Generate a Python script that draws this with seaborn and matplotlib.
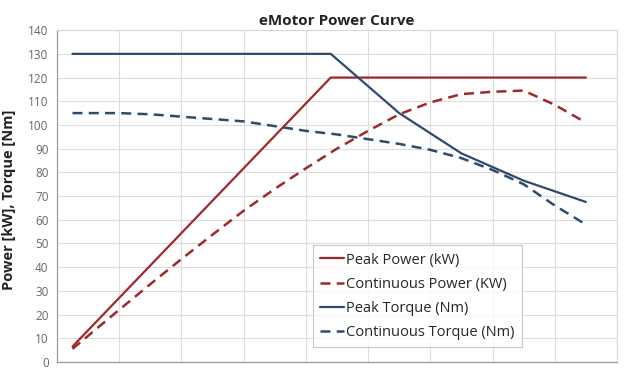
import numpy as np
import pandas as pd
import matplotlib
matplotlib.use("Agg")
import matplotlib.pyplot as plt
import seaborn as sns

# motor speed (rpm) for each series
peak_power_rpm = [500, 8800, 17000]
peak_power_kw = [6.5, 120, 120]

cont_power_rpm = [500, 1000, 2000, 3000, 4000, 5000, 6000, 7000, 8000, 9000,
                  10000, 11000, 12000, 13000, 14000, 15000, 16000, 17000]
cont_power_kw = [5.5, 11, 22, 32.8, 43.4, 53.7, 63.8, 73, 81.7, 90,
                 97.5, 104.5, 109.5, 113, 114, 114.5, 108.5, 101]

peak_torque_rpm = [500, 8800, 11000, 13000, 15000, 17000]
peak_torque_nm = [130, 130, 105, 88, 76.5, 67.5]

cont_torque_rpm = [500, 1000, 2000, 3000, 4000, 5000, 6000, 7000, 8000, 9000,
                   10000, 11000, 12000, 13000, 14000, 15000, 16000, 17000]
cont_torque_nm = [105, 105, 105, 104.5, 103.5, 102.5, 101.5, 99.5, 97.5, 96,
                  94, 92, 89.5, 86, 81, 75, 66, 58]

red = "#A0282C"
blue = "#2E4B6D"

sns.set_style("white")
plt.rcParams["font.family"] = ["Open Sans", "DejaVu Sans"]

fig = plt.figure(figsize=(6.4, 3.77), dpi=100)
ax = fig.add_axes([0.089, 0.040, 0.875, 0.880])

sns.lineplot(x=peak_power_rpm, y=peak_power_kw, ax=ax, color=red, lw=1.6,
             label="Peak Power (kW)")
sns.lineplot(x=cont_power_rpm, y=cont_power_kw, ax=ax, color=red, lw=1.8,
             linestyle=(0, (4, 2.5)), label="Continuous Power (KW)")
sns.lineplot(x=peak_torque_rpm, y=peak_torque_nm, ax=ax, color=blue, lw=1.6,
             label="Peak Torque (Nm)")
sns.lineplot(x=cont_torque_rpm, y=cont_torque_nm, ax=ax, color=blue, lw=1.8,
             linestyle=(0, (4, 2.5)), label="Continuous Torque (Nm)")

ax.set_xlim(0, 18000)
ax.set_ylim(0, 140)
ax.set_xticks(np.arange(0, 18001, 2000))
ax.set_yticks(np.arange(0, 141, 10))
ax.set_xticklabels([])
ax.grid(True, color="#DCDCDC", lw=0.8)
ax.set_axisbelow(True)

for side in ["top", "right"]:
    ax.spines[side].set_color("#D8D8D8")
    ax.spines[side].set_linewidth(0.8)
for side in ["left", "bottom"]:
    ax.spines[side].set_color("#9A9A9A")
    ax.spines[side].set_linewidth(0.9)

ax.tick_params(axis="y", length=4, width=0.8, color="#9A9A9A",
               labelsize=8.5, labelcolor="#666666", pad=2)
ax.tick_params(axis="x", length=4, width=0.8, color="#9A9A9A", direction="out")

ax.set_xlabel("")
ax.set_ylabel("Power [kW], Torque [Nm]", fontsize=10.5, fontweight="bold",
              color="#222222")
ax.yaxis.set_label_coords(-0.073, 0.49)

ax.set_title("eMotor Power Curve", fontsize=11, fontweight="bold",
             color="#222222", pad=4)

leg = ax.legend(loc="lower left", bbox_to_anchor=(0.457, 0.045),
                fontsize=10.5, frameon=True, fancybox=False,
                handlelength=1.6, handletextpad=0.2, labelspacing=0.62,
                borderpad=0.5, borderaxespad=0)
leg.get_frame().set_edgecolor("#BBBBBB")
leg.get_frame().set_linewidth(0.8)

fig.savefig("out.png", dpi=100)
